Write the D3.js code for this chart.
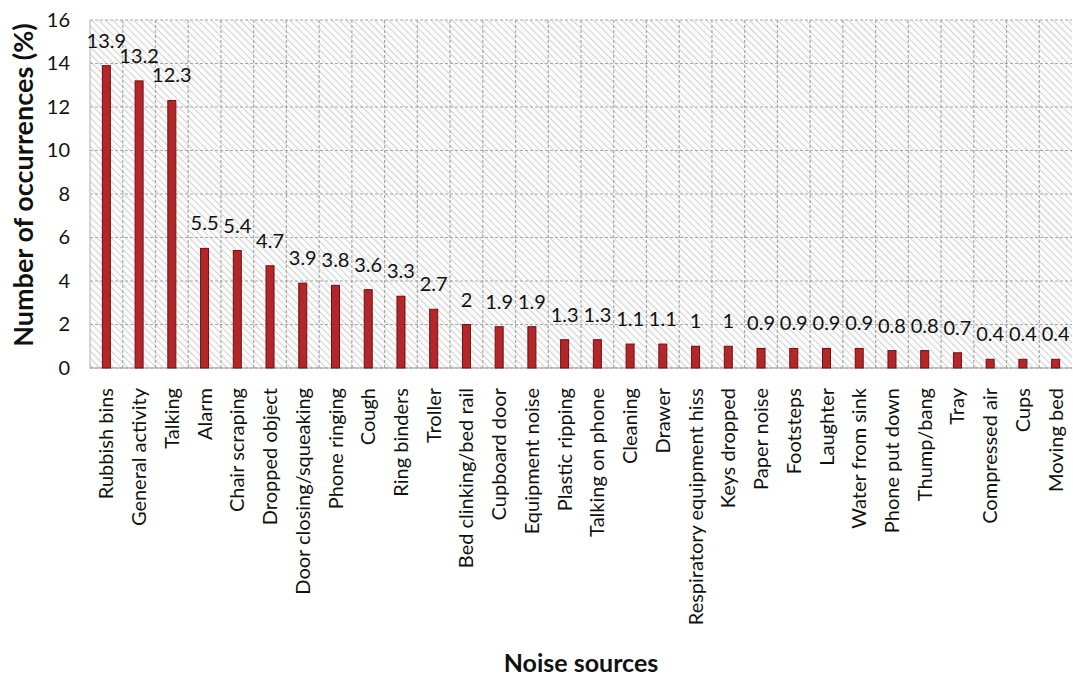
<!DOCTYPE html>
<html><head><meta charset="utf-8">
<script src="https://cdn.jsdelivr.net/npm/d3@7"></script>
<style>body{margin:0;background:#fff}svg{display:block}</style>
</head><body><svg id="c" width="1073" height="679"></svg>
<script>
const categories = ["Rubbish bins","General activity","Talking","Alarm","Chair scraping","Dropped object","Door closing/squeaking","Phone ringing","Cough","Ring binders","Troller","Bed clinking/bed rail","Cupboard door","Equipment noise","Plastic ripping","Talking on phone","Cleaning","Drawer","Respiratory equipment hiss","Keys dropped","Paper noise","Footsteps","Laughter","Water from sink","Phone put down","Thump/bang","Tray","Compressed air","Cups","Moving bed"];
const values = [13.9,13.2,12.3,5.5,5.4,4.7,3.9,3.8,3.6,3.3,2.7,2,1.9,1.9,1.3,1.3,1.1,1.1,1,1,0.9,0.9,0.9,0.9,0.8,0.8,0.7,0.4,0.4,0.4];
const yTicks = [0,2,4,6,8,10,12,14,16];

const svg = d3.select("#c");
const m = {l:90, r:1072, t:20, b:368};
const font = "Lato, 'Open Sans', sans-serif";

const x = d3.scaleBand().domain(categories).range([m.l, m.r]).paddingInner(0).paddingOuter(0);
const y = d3.scaleLinear().domain([0,16]).range([m.b, m.t]);

const defs = svg.append("defs");
const pat = defs.append("pattern").attr("id","hatch").attr("patternUnits","userSpaceOnUse")
  .attr("width",5).attr("height",5).attr("patternTransform","rotate(-45)");
pat.append("rect").attr("width",5).attr("height",5).attr("fill","#fbfbfb");
pat.append("line").attr("x1",0).attr("y1",0).attr("x2",0).attr("y2",5)
  .attr("stroke","#c8c8c8").attr("stroke-width",1.6);

svg.append("rect").attr("x",m.l).attr("y",m.t).attr("width",m.r-m.l).attr("height",m.b-m.t)
  .attr("fill","url(#hatch)");

// horizontal gridlines
svg.append("g").selectAll("line").data(yTicks).join("line")
  .attr("x1",m.l).attr("x2",m.r).attr("y1",d=>y(d)).attr("y2",d=>y(d))
  .attr("stroke","#a8a8a8").attr("stroke-width",1.2).attr("stroke-dasharray","3,2");
// vertical gridlines at band boundaries
svg.append("g").selectAll("line").data(categories.slice(1)).join("line")
  .attr("x1",d=>x(d)).attr("x2",d=>x(d)).attr("y1",m.t).attr("y2",m.b)
  .attr("stroke","#a8a8a8").attr("stroke-width",1.2).attr("stroke-dasharray","3,2");
svg.append("line").attr("x1",m.l).attr("x2",m.l).attr("y1",m.t).attr("y2",m.b)
  .attr("stroke","#b0b0b0").attr("stroke-width",1);
svg.append("line").attr("x1",m.l).attr("x2",m.r).attr("y1",m.b).attr("y2",m.b)
  .attr("stroke","#a0a0a0").attr("stroke-width",1.2);

// bars
const bw = 8;
svg.append("g").selectAll("rect").data(values).join("rect")
  .attr("x",(d,i)=>x(categories[i])+x.bandwidth()/2-bw/2)
  .attr("y",d=>y(d)).attr("width",bw).attr("height",d=>y(0)-y(d))
  .attr("fill","#b3262a").attr("stroke","#6e1012").attr("stroke-width",1);

// value labels
svg.append("g").selectAll("text").data(values).join("text")
  .attr("x",(d,i)=>x(categories[i])+x.bandwidth()/2)
  .attr("y",d=>y(d)-18)
  .attr("text-anchor","middle").attr("font-family",font).attr("font-size",20).attr("fill","#111")
  .text(d=>String(d));

// y axis
const yAxis = d3.axisLeft(y).tickValues(yTicks).tickSize(0).tickPadding(20);
const gy = svg.append("g").attr("transform",`translate(${m.l},0)`).call(yAxis);
gy.select(".domain").remove();
gy.selectAll("text").attr("font-family",font).attr("font-size",20).attr("fill","#111");

// x axis
const xAxis = d3.axisBottom(x).tickSize(0).tickPadding(0);
const gx = svg.append("g").attr("transform",`translate(0,${m.b})`).call(xAxis);
gx.select(".domain").remove();
gx.selectAll("text").attr("font-family",font).attr("font-size",20).attr("fill","#111")
  .attr("text-anchor","end").attr("dy","0.35em")
  .attr("transform","translate(0,20) rotate(-90)").attr("x",0).attr("y",0);

// titles
svg.append("text").attr("transform",`translate(33,185) rotate(-90)`)
  .attr("text-anchor","middle").attr("font-family",font).attr("font-weight","bold")
  .attr("font-size",27).attr("fill","#111").text("Number of occurrences (%)");
svg.append("text").attr("x",(m.l+m.r)/2).attr("y",672)
  .attr("text-anchor","middle").attr("font-family",font).attr("font-weight","bold")
  .attr("font-size",25).attr("fill","#111").text("Noise sources");
</script></body></html>
